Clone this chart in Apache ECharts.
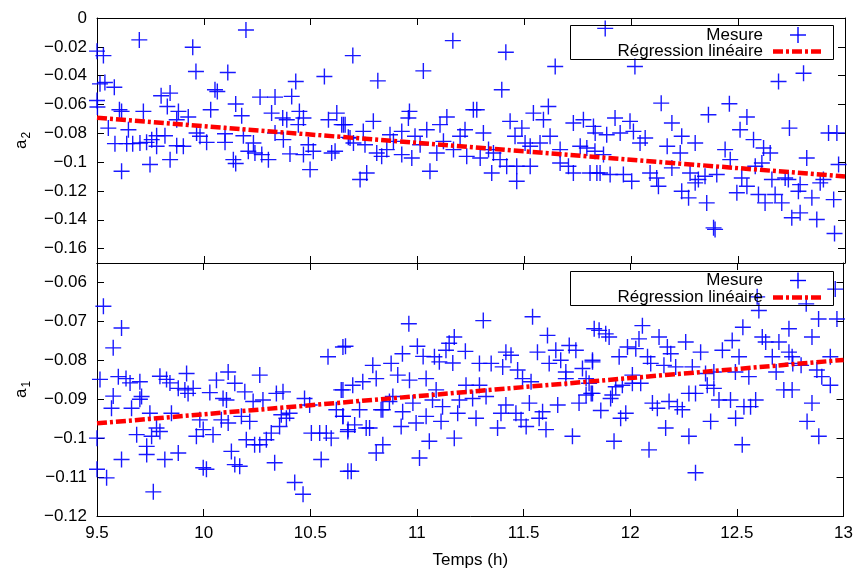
<!DOCTYPE html>
<html><head><meta charset="utf-8">
<script src="https://cdn.jsdelivr.net/npm/echarts@6/dist/echarts.min.js"></script>
<style>html,body{margin:0;padding:0;background:#fff}#c{width:856px;height:570px}</style>
</head><body><div id="c"></div>
<script>
// ---- data ----
const xTicks = [9.5, 10, 10.5, 11, 11.5, 12, 12.5, 13];
const yTicksA2 = [0, -0.02, -0.04, -0.06, -0.08, -0.1, -0.12, -0.14, -0.16];
const yTicksA1 = [-0.06, -0.07, -0.08, -0.09, -0.1, -0.11, -0.12];
const regTime = [9.5, 13];
const regA2 = [-0.0692, -0.1100];
const regA1 = [-0.0962, -0.0799];

const a2Measures = [
[9.500,-0.0230],[9.530,-0.0261],[9.514,-0.0457],[9.537,-0.0448],[9.581,-0.0480],[9.500,-0.0572],[9.502,-0.0618],[9.698,-0.0152],[9.605,-0.0637],[9.615,-0.0648],[9.553,-0.0764],[9.584,-0.0872],[9.615,-0.1063],[9.647,-0.0775],[9.639,-0.0872],[9.667,-0.0872],[9.701,-0.0867],[9.717,-0.0648],[9.732,-0.0863],[9.756,-0.0844],[9.748,-0.1017],[9.779,-0.0817],[9.779,-0.0890],[9.800,-0.0540],[9.818,-0.0817],[9.829,-0.0614],[9.842,-0.0521],[9.842,-0.0983],[9.873,-0.0706],[9.881,-0.0648],[9.873,-0.0886],[9.904,-0.0890],[9.927,-0.0687],[9.948,-0.0203],[9.963,-0.0371],[9.966,-0.0798],[9.982,-0.0821],[10.013,-0.0863],[10.032,-0.0637],[10.052,-0.0498],[10.063,-0.0510],[10.099,-0.0803],[10.099,-0.0863],[10.112,-0.0378],[10.149,-0.0597],[10.138,-0.0983],[10.149,-0.1010],[10.177,-0.0678],[10.185,-0.0817],[10.197,-0.0083],[10.208,-0.0925],[10.239,-0.0937],[10.232,-0.0867],[10.263,-0.0549],[10.271,-0.0948],[10.302,-0.0983],[10.317,-0.0660],[10.333,-0.0549],[10.333,-0.0798],[10.369,-0.0694],[10.388,-0.0706],[10.372,-0.0844],[10.411,-0.0544],[10.430,-0.0441],[10.447,-0.0648],[10.442,-0.0740],[10.466,-0.0694],[10.403,-0.0943],[10.466,-0.0948],[10.489,-0.0879],[10.497,-0.1052],[10.512,-0.0925],[10.564,-0.0406],[10.583,-0.0706],[10.622,-0.0660],[10.598,-0.0937],[10.614,-0.0925],[10.653,-0.0740],[10.676,-0.0828],
[10.697,-0.0261],[10.814,-0.0436],[11.027,-0.0367],[11.165,-0.0157],[11.413,-0.0238],[11.394,-0.0498],[11.644,-0.0337],[10.645,-0.0740],[10.661,-0.0740],[10.684,-0.0833],[10.700,-0.0867],[10.746,-0.0787],[10.793,-0.0717],[10.754,-0.0879],[10.871,-0.0810],[10.887,-0.0856],[10.926,-0.0787],[10.962,-0.0648],[10.957,-0.0694],[10.988,-0.0821],[11.012,-0.0879],[11.043,-0.0775],[10.809,-0.0937],[10.832,-0.0960],[10.856,-0.0913],[10.926,-0.0948],[10.973,-0.0971],[11.058,-0.1063],[11.090,-0.0937],[11.105,-0.0740],[11.137,-0.0687],[11.121,-0.0856],[11.168,-0.0913],[11.199,-0.0821],[11.222,-0.0775],[11.230,-0.0960],[11.261,-0.0637],[11.277,-0.0637],[11.308,-0.0798],[11.293,-0.0971],[11.332,-0.0913],[11.355,-0.0937],[11.347,-0.1075],[11.386,-0.0983],[11.417,-0.1029],[11.464,-0.1029],[11.527,-0.1029],[11.433,-0.0717],[11.456,-0.0821],[11.488,-0.0764],[11.464,-0.1133],[11.503,-0.0867],[11.527,-0.0890],[11.542,-0.0660],[11.573,-0.0867],[11.589,-0.0706],[11.612,-0.0614],[11.620,-0.0821],[11.667,-0.0913],[11.667,-0.1006],[11.706,-0.1029],[11.729,-0.1075],[11.729,-0.0729],[11.776,-0.0706],[11.761,-0.0890],[11.792,-0.0902],[11.823,-0.0752],[11.831,-0.0798],[11.839,-0.1075],[10.731,-0.1121],[10.762,-0.1075],
[11.878,-0.0072],[12.017,-0.0337],[12.689,-0.0441],[12.806,-0.0383],[12.140,-0.0591],[12.459,-0.0595],[12.361,-0.0671],[12.541,-0.0687],[12.190,-0.0729],[11.924,-0.0694],[11.994,-0.0717],[11.885,-0.0810],[11.948,-0.0798],[12.010,-0.0787],[12.065,-0.0833],[12.041,-0.0867],[12.236,-0.0821],[12.299,-0.0867],[12.168,-0.0890],[12.509,-0.0775],[12.572,-0.0844],[12.619,-0.0902],[12.650,-0.0937],[12.740,-0.0764],[12.439,-0.0913],[11.870,-0.0948],[11.830,-0.0925],[11.807,-0.1075],[11.854,-0.1075],[11.901,-0.1086],[11.963,-0.1086],[12.002,-0.1133],[12.088,-0.1075],[12.119,-0.1110],[12.127,-0.1167],[12.190,-0.1040],[12.229,-0.0937],[12.236,-0.1202],[12.268,-0.1248],[12.275,-0.1075],[12.299,-0.1144],[12.314,-0.1121],[12.345,-0.1098],[12.353,-0.1283],[12.385,-0.1456],[12.392,-0.1467],[12.400,-0.1086],[12.463,-0.0983],[12.494,-0.1213],[12.517,-0.1110],[12.541,-0.1167],[12.580,-0.1029],[12.611,-0.1006],[12.595,-0.1225],[12.626,-0.1283],[12.658,-0.1121],[12.673,-0.1225],[12.704,-0.1283],[12.720,-0.1110],[12.735,-0.1121],[12.751,-0.1386],[12.790,-0.1352],[12.782,-0.1202],[12.790,-0.1156],[12.821,-0.0971],[12.845,-0.1248],[12.868,-0.1398],[12.884,-0.1144],[12.899,-0.1121],[12.947,-0.1260],[12.951,-0.1495],[12.923,-0.0798],[12.962,-0.0798],[12.970,-0.1017]
];

const a1Measures = [
[9.530,-0.0661],[9.615,-0.0717],[9.576,-0.0768],[9.514,-0.0849],[9.600,-0.0842],[9.636,-0.0847],[9.655,-0.0858],[9.701,-0.0855],[9.795,-0.0841],[9.826,-0.0849],[9.842,-0.0858],[9.920,-0.0834],[9.881,-0.0872],[9.912,-0.0876],[9.927,-0.0885],[9.951,-0.0872],[9.709,-0.0893],[9.701,-0.0900],[9.576,-0.0892],[9.568,-0.0923],[9.662,-0.0923],[9.748,-0.0936],[9.849,-0.0936],[10.029,-0.0883],[10.060,-0.0851],[10.115,-0.0830],[10.146,-0.0859],[10.091,-0.0898],[10.107,-0.0902],[10.193,-0.0881],[10.232,-0.0906],[10.263,-0.0838],[10.278,-0.0902],[10.341,-0.0885],[10.372,-0.0881],[10.473,-0.0898],[10.497,-0.0915],[10.403,-0.0936],[10.364,-0.0940],[10.388,-0.0949],[10.177,-0.0944],[10.216,-0.0957],[10.083,-0.0953],[10.115,-0.0961],[9.982,-0.0953],[9.998,-0.0978],[9.966,-0.0995],[10.044,-0.0991],[9.779,-0.0974],[9.795,-0.0983],[9.756,-0.0995],[9.686,-0.0991],[9.733,-0.1021],[9.733,-0.1042],[9.615,-0.1055],[9.818,-0.1055],[9.881,-0.1038],[9.500,-0.1000],[9.500,-0.1080],[9.545,-0.1102],[9.764,-0.1138],[9.998,-0.1076],[10.013,-0.1080],[10.130,-0.1034],[10.146,-0.1068],[10.169,-0.1072],[10.200,-0.1004],[10.239,-0.1017],[10.263,-0.1017],[10.294,-0.1004],[10.317,-0.0987],[10.356,-0.0970],[10.333,-0.1063],[10.427,-0.1114],[10.466,-0.1144],[10.505,-0.0987],[10.544,-0.0987],[10.575,-0.0987],[10.598,-0.1000],[10.551,-0.1055],[10.583,-0.0791],[10.653,-0.0766],[10.653,-0.0876],[10.622,-0.0927],[10.653,-0.0944],[10.676,-0.0983],[10.676,-0.1085],
[10.962,-0.0706],[11.311,-0.0698],[11.542,-0.0688],[11.831,-0.0719],[10.665,-0.0764],[11.175,-0.0740],[11.151,-0.0756],[11.136,-0.0774],[11.002,-0.0764],[10.932,-0.0783],[11.029,-0.0790],[11.082,-0.0791],[11.105,-0.0804],[11.168,-0.0807],[11.227,-0.0777],[11.417,-0.0779],[11.441,-0.0787],[11.565,-0.0779],[11.612,-0.0736],[11.651,-0.0774],[11.714,-0.0762],[11.745,-0.0774],[11.293,-0.0808],[11.348,-0.0808],[11.402,-0.0817],[11.472,-0.0825],[11.495,-0.0847],[11.620,-0.0808],[11.674,-0.0800],[11.698,-0.0830],[11.776,-0.0821],[11.823,-0.0804],[10.793,-0.0813],[10.879,-0.0808],[10.910,-0.0838],[10.809,-0.0847],[10.746,-0.0855],[10.699,-0.0864],[10.645,-0.0876],[10.965,-0.0851],[11.043,-0.0847],[11.090,-0.0876],[11.230,-0.0864],[11.261,-0.0898],[11.293,-0.0864],[11.324,-0.0893],[10.887,-0.0893],[10.871,-0.0906],[10.981,-0.0910],[11.073,-0.0902],[11.120,-0.0919],[11.199,-0.0902],[11.417,-0.0915],[11.527,-0.0910],[11.464,-0.0936],[11.535,-0.0855],[11.698,-0.0847],[11.793,-0.0847],[11.793,-0.0889],[11.817,-0.0885],[11.660,-0.0915],[11.760,-0.0910],[11.589,-0.0932],[11.573,-0.0949],[11.605,-0.0978],[11.488,-0.0953],[11.512,-0.0970],[11.378,-0.0974],[11.394,-0.0936],[11.277,-0.0949],[11.191,-0.0936],[11.113,-0.0957],[11.043,-0.0944],[10.996,-0.0961],[10.933,-0.0932],[10.926,-0.0970],[10.832,-0.0927],[10.840,-0.0927],[10.731,-0.0927],[10.653,-0.0944],[10.708,-0.0966],[10.677,-0.0978],[10.762,-0.0974],[10.778,-0.0974],[10.840,-0.1017],[10.809,-0.1038],[11.058,-0.1008],[11.175,-0.1000],[11.012,-0.1051],[10.692,-0.1085],[11.729,-0.0995],
[12.961,-0.0617],[12.825,-0.0655],[12.603,-0.0672],[12.595,-0.0637],[12.883,-0.0694],[12.969,-0.0694],[12.528,-0.0715],[12.057,-0.0711],[11.854,-0.0723],[11.885,-0.0732],[11.901,-0.0740],[12.041,-0.0745],[12.135,-0.0740],[12.260,-0.0753],[12.478,-0.0749],[12.619,-0.0740],[12.635,-0.0753],[12.697,-0.0753],[12.744,-0.0719],[12.852,-0.0740],[11.987,-0.0766],[12.026,-0.0770],[12.174,-0.0766],[12.190,-0.0783],[12.330,-0.0779],[12.432,-0.0774],[11.948,-0.0791],[12.081,-0.0791],[12.510,-0.0791],[12.666,-0.0791],[12.744,-0.0779],[12.759,-0.0791],[12.938,-0.0791],[11.823,-0.0800],[12.096,-0.0808],[12.158,-0.0813],[12.213,-0.0817],[12.291,-0.0817],[12.353,-0.0834],[12.392,-0.0830],[12.493,-0.0830],[12.556,-0.0842],[12.684,-0.0830],[12.762,-0.0808],[12.801,-0.0813],[12.875,-0.0825],[12.898,-0.0842],[11.807,-0.0859],[11.823,-0.0885],[11.932,-0.0868],[11.963,-0.0864],[12.010,-0.0838],[12.049,-0.0859],[12.010,-0.0859],[12.361,-0.0864],[12.392,-0.0872],[12.720,-0.0876],[12.759,-0.0876],[12.938,-0.0864],[11.916,-0.0889],[11.908,-0.0898],[12.275,-0.0885],[12.306,-0.0885],[12.416,-0.0902],[12.470,-0.0902],[12.588,-0.0902],[12.104,-0.0910],[12.127,-0.0923],[12.182,-0.0906],[12.221,-0.0919],[12.244,-0.0927],[12.533,-0.0919],[12.564,-0.0919],[12.852,-0.0910],[11.862,-0.0929],[11.979,-0.0936],[11.955,-0.0949],[12.494,-0.0949],[12.377,-0.0957],[12.829,-0.0957],[12.166,-0.0974],[12.275,-0.0995],[12.884,-0.0995],[11.924,-0.1008],[12.525,-0.1017],[12.088,-0.1030],[12.306,-0.1089]
];

// ---- chart ----
const FONT = '"Liberation Sans", Arial, sans-serif';
const BLUE = '#0000ff';
const RED = '#ff0000';
const PLUS = 'path://M7.3,0H8.7V16H7.3Z M0,7.3H16V8.7H0Z';
const fmt = v => String(Math.round(v * 1000) / 1000).replace('-', '\u2212');

const axisLine = { show: true, onZero: false, lineStyle: { color: '#000', width: 1 } };
const tick = { show: true, inside: true, length: 7, lineStyle: { color: '#000', width: 1 } };

function xAx(grid, pos, labels) {
  const a = {
    type: 'value', gridIndex: grid, position: pos, min: 9.5, max: 13, interval: 0.5,
    axisLine: axisLine, axisTick: tick, splitLine: { show: false },
    axisLabel: { show: labels, color: '#000', fontFamily: FONT, fontSize: 17, margin: 9,
      formatter: v => String(v) }
  };
  if (labels) {
    a.name = 'Temps (h)'; a.nameLocation = 'middle'; a.nameGap = 36;
    a.nameTextStyle = { color: '#000', fontFamily: FONT, fontSize: 17 };
  }
  return a;
}
function yAx(grid, pos, min, max, ticks, sub) {
  const a = {
    type: 'value', gridIndex: grid, position: pos, min: min, max: max,
    axisLine: axisLine, splitLine: { show: false },
    axisTick: Object.assign({ customValues: ticks }, tick),
    axisLabel: { show: pos === 'left', customValues: ticks, color: '#000', fontFamily: FONT,
      fontSize: 17, margin: 10, formatter: fmt }
  };
  if (sub) {
    a.name = '{a|a}{s|' + sub + '}'; a.nameLocation = 'middle'; a.nameGap = 64; a.nameRotate = 90;
    a.nameTextStyle = { rich: {
      a: { fontFamily: FONT, fontSize: 17, color: '#000', lineHeight: 24, verticalAlign: 'middle' },
      s: { fontFamily: FONT, fontSize: 12, color: '#000', lineHeight: 24, verticalAlign: 'bottom', padding: [0, 0, 0, 1] }
    } };
  }
  return a;
}

function legendBox(top, y1, y2) {
  return [
    { type: 'rect', shape: { x: 570.5, y: top + 0.5, width: 263, height: 34 },
      style: { fill: 'none', stroke: '#000', lineWidth: 1 }, z: 100 },
    { type: 'text', x: 763, y: y1, style: { text: 'Mesure', align: 'right', verticalAlign: 'middle',
      font: '17px ' + FONT, fill: '#000' }, z: 100 },
    { type: 'text', x: 763, y: y2, style: { text: 'R\u00e9gression lin\u00e9aire', align: 'right', verticalAlign: 'middle',
      font: '17px ' + FONT, fill: '#000' }, z: 100 },
    { type: 'line', shape: { x1: 790, y1: y1, x2: 806, y2: y1 }, style: { stroke: BLUE, lineWidth: 1.4 }, z: 100 },
    { type: 'line', shape: { x1: 798, y1: y1 - 8, x2: 798, y2: y1 + 8 }, style: { stroke: BLUE, lineWidth: 1.4 }, z: 100 },
    { type: 'line', shape: { x1: 773, y1: y2, x2: 822, y2: y2 },
      style: { stroke: RED, lineWidth: 4.5, lineDash: [10, 3, 3, 3] }, z: 100 }
  ];
}

const chart = echarts.init(document.getElementById('c'), null, { renderer: 'canvas' });
chart.setOption({
  backgroundColor: '#fff',
  animation: false,
  grid: [
    { left: 97, right: 11, top: 18, height: 245 },
    { left: 97, right: 11, top: 263, height: 255 }
  ],
  xAxis: [xAx(0, 'bottom', false), xAx(0, 'top', false), xAx(1, 'bottom', true), xAx(1, 'top', false)],
  yAxis: [
    yAx(0, 'left', -0.17, 0, yTicksA2, '2'), yAx(0, 'right', -0.17, 0, yTicksA2, null),
    yAx(1, 'left', -0.12, -0.055, yTicksA1, '1'), yAx(1, 'right', -0.12, -0.055, yTicksA1, null)
  ],
  series: [
    { type: 'scatter', xAxisIndex: 0, yAxisIndex: 0, data: a2Measures, symbol: PLUS, symbolSize: 16,
      itemStyle: { color: BLUE, opacity: 0.9 }, silent: true },
    { type: 'line', xAxisIndex: 0, yAxisIndex: 0, data: regTime.map((t, i) => [t, regA2[i]]),
      symbol: 'none', lineStyle: { color: RED, width: 4.5, type: [10, 3, 3, 3] }, z: 5 },
    { type: 'scatter', xAxisIndex: 2, yAxisIndex: 2, data: a1Measures, symbol: PLUS, symbolSize: 16,
      itemStyle: { color: BLUE, opacity: 0.9 }, silent: true },
    { type: 'line', xAxisIndex: 2, yAxisIndex: 2, data: regTime.map((t, i) => [t, regA1[i]]),
      symbol: 'none', lineStyle: { color: RED, width: 4.5, type: [10, 3, 3, 3] }, z: 5 }
  ],
  graphic: legendBox(25, 35, 51.5).concat(legendBox(271, 280.5, 297.5))
});
</script></body></html>
